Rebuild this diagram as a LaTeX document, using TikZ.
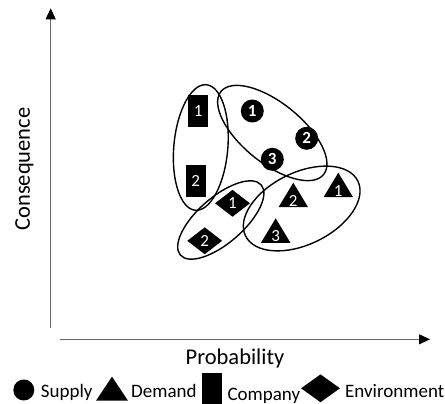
\documentclass[tikz,border=0pt]{standalone}
\usepackage{fontspec}
\setmainfont{Carlito}
\usetikzlibrary{shapes.geometric,arrows.meta}

% filled triangle marker: name, apex x, apex y, digit
\newcommand\demandmark[4]{%
  \fill (#2,#3) -- ++(14.75,24.5) -- ++(-29.5,0) -- cycle;
  \node[digit, anchor=base] (#1) at (#2,#3+23.5) {#4};}

\begin{document}
\begin{tikzpicture}[x=1pt,y=-1pt,
  axisline/.style={draw=black!60, line width=1pt},
  axistip/.style={-{Triangle[length=11pt,width=10pt,color=black]}},
  groupring/.style={ellipse, draw=black, line width=1.4pt, inner sep=0pt},
  digit/.style={text=white, inner sep=0pt, font=\fontsize{17}{17}\selectfont},
  supplymark/.style={circle, fill=black, minimum size=23pt, inner sep=0pt,
    text=white, font=\bfseries\fontsize{17}{17}\selectfont},
  companymark/.style={rectangle, fill=black, minimum width=20pt,
    minimum height=32pt, inner sep=0pt, text=white,
    font=\fontsize{17}{17}\selectfont},
  envmark/.style={diamond, fill=black, minimum width=35pt,
    minimum height=27pt, inner sep=0pt, text=white,
    font=\fontsize{17}{17}\selectfont},
  axislabel/.style={font=\fontsize{22.5}{22.5}\selectfont, inner sep=0pt,
    anchor=base},
  legendtext/.style={font=\fontsize{19}{19}\selectfont, inner sep=0pt,
    anchor=base west},
]
\useasboundingbox (0,0) rectangle (445,404);

% axes
\coordinate (yfoot) at (50.7,328);
\coordinate (ytop)  at (50.7,8.3);
\coordinate (xfoot) at (60,339.3);
\coordinate (xend)  at (430,339.3);
\draw[axisline, axistip] (yfoot) -- (ytop);
\draw[axisline, axistip] (xfoot) -- (xend);
\node[axislabel, rotate=90] (conslabel) at (30,169) {Consequence};
\node[axislabel] (problabel) at (235,364) {Probability};

% group outlines
\node[groupring, minimum width=54pt, minimum height=126pt, rotate=-5]
  (gcompany) at (200.8,147.5) {};
\node[groupring, minimum width=132pt, minimum height=60pt, rotate=-39]
  (gsupply) at (272.3,133) {};
\node[groupring, minimum width=125pt, minimum height=72pt, rotate=26]
  (gdemand) at (301.7,208.5) {};
\node[groupring, minimum width=107pt, minimum height=46pt, rotate=41]
  (genv) at (220.8,220) {};

% company
\node[companymark] (c1) at (198.3,111.5) {1};
\node[companymark] (c2) at (195.7,181.3) {2};
% supply
\node[supplymark] (s1) at (252.3,111) {1};
\node[supplymark] (s2) at (306.7,138.3) {2};
\node[supplymark] (s3) at (272.3,159.3) {3};
% environment
\node[envmark] (e1) at (232.5,203.3) {1};
\node[envmark] (e2) at (204.7,240.8) {2};
% demand
\demandmark{d1}{338.3}{172.7}{1}
\demandmark{d2}{293.3}{182.7}{2}
\demandmark{d3}{275.7}{218.3}{3}

% legend
\node[circle, fill=black, minimum size=21pt, inner sep=0pt] (keysupply) at (23.8,390) {};
\node[legendtext] (txtsupply) at (40.7,397.3) {Supply};
\fill (112,376.7) -- ++(16,24) -- ++(-32,0) -- cycle;
\coordinate (keydemand) at (112,392);
\node[legendtext] (txtdemand) at (131,397.3) {Demand};
\node[rectangle, fill=black, minimum width=20pt, minimum height=31pt, inner sep=0pt]
  (keycompany) at (212.3,388.7) {};
\node[legendtext] (txtcompany) at (227.3,400.5) {Company};
\node[diamond, fill=black, minimum width=39pt, minimum height=28pt, inner sep=0pt]
  (keyenv) at (320.5,388.3) {};
\node[legendtext] (txtenv) at (345,397.3) {Environment};
\end{tikzpicture}
\end{document}
